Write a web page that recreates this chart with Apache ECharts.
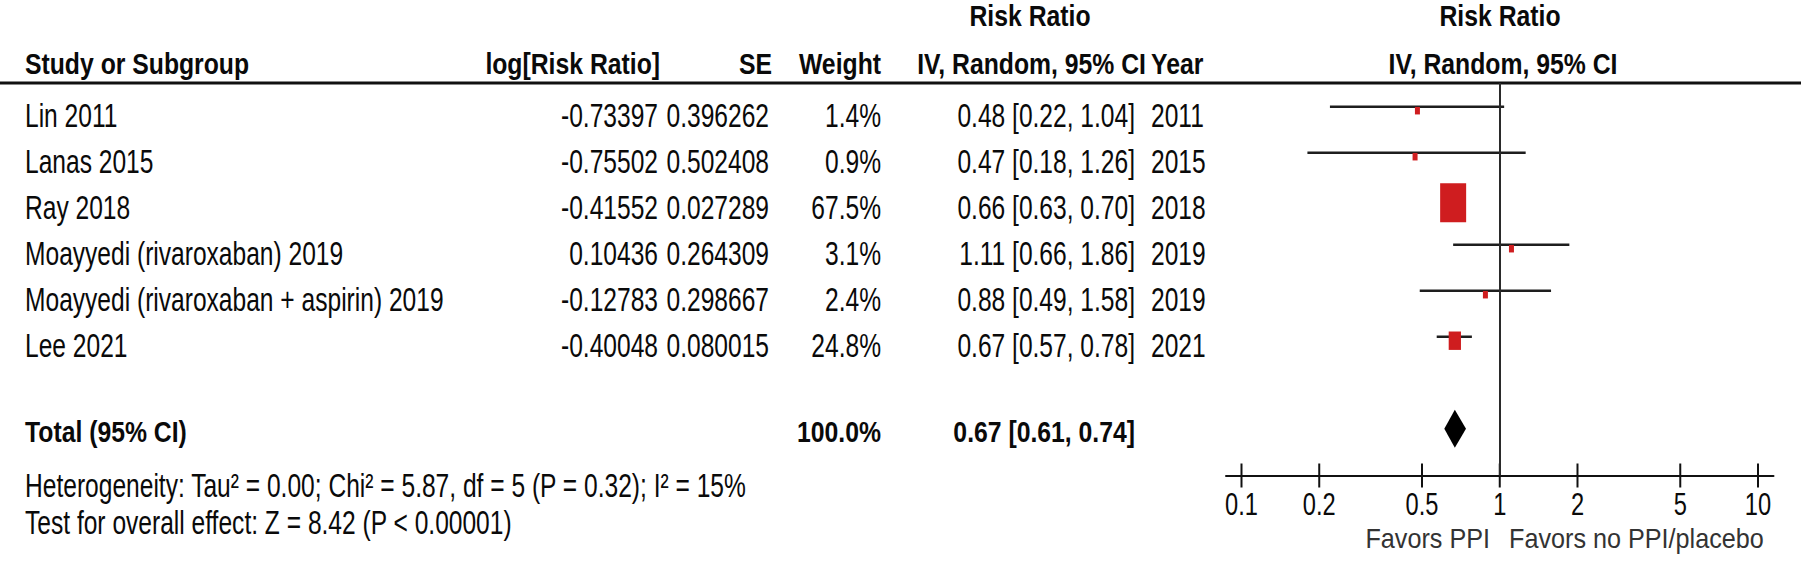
<!DOCTYPE html>
<html>
<head>
<meta charset="utf-8">
<script src="https://cdn.jsdelivr.net/npm/echarts@6/dist/echarts.min.js"></script>
<style>
html,body{margin:0;padding:0;background:#fff;}
#chart{width:1801px;height:567px;}
</style>
</head>
<body>
<div id="chart"></div>
<script>
// ---------- data ----------
const studies = ['Lin 2011', 'Lanas 2015', 'Ray 2018', 'Moayyedi (rivaroxaban) 2019', 'Moayyedi (rivaroxaban + aspirin) 2019', 'Lee 2021'];
const logRR = [-0.73397, -0.75502, -0.41552, 0.10436, -0.12783, -0.40048];
const seVals = [0.396262, 0.502408, 0.027289, 0.264309, 0.298667, 0.080015];
const weights = [1.4, 0.9, 67.5, 3.1, 2.4, 24.8];
const rr = [0.48, 0.47, 0.66, 1.11, 0.88, 0.67];
const ciLow = [0.22, 0.18, 0.63, 0.66, 0.49, 0.57];
const ciHigh = [1.04, 1.26, 0.70, 1.86, 1.58, 0.78];
const years = [2011, 2015, 2018, 2019, 2019, 2021];
const totalRR = 0.67, totalLow = 0.61, totalHigh = 0.74, totalWeight = 100.0;
const tickValues = [0.1, 0.2, 0.5, 1, 2, 5, 10];
const tickLabels = ['0.1', '0.2', '0.5', '1', '2', '5', '10'];
const heterogeneityText = 'Heterogeneity: Tau\u00b2 = 0.00; Chi\u00b2 = 5.87, df = 5 (P = 0.32); I\u00b2 = 15%';
const overallText = 'Test for overall effect: Z = 8.42 (P < 0.00001)';
const leftLabel = 'Favors PPI';
const rightLabel = 'Favors no PPI/placebo';

// ---------- layout / style ----------
const FONT = "'Liberation Sans', Arial, Helvetica, sans-serif";
const REG = {size: 33, sx: 0.745};
const BOLD = {size: 30, sx: 0.825};
const Y_MIN = -0.515, Y_MAX = 8.017;
const TOTAL_ROW = 7;
const COL = {name: 25, logrr: 658, se: 769, weight: 881, ci: 1135, year: 1151};

function txt(text, x, y, align, opt) {
  opt = opt || {};
  const f = opt.bold ? BOLD : REG;
  return {
    type: 'text', x: x, y: y, scaleX: opt.sx || f.sx, silent: true,
    style: {
      text: text, fontFamily: FONT, fontSize: opt.size || f.size,
      fontWeight: opt.bold ? 'bold' : 'normal', fill: opt.fill || '#0a0a0a',
      align: align, verticalAlign: 'middle'
    }
  };
}
function ciText(a, b, c) { return a.toFixed(2) + ' [' + b.toFixed(2) + ', ' + c.toFixed(2) + ']'; }
function boxW(w) { return Math.max(5, 26 * Math.pow(w / 67.5, 0.75)); }

const chart = echarts.init(document.getElementById('chart'), null, {renderer: 'svg'});

const option = {
  animation: false,
  backgroundColor: '#fff',
  grid: {left: 1226, right: 27.5, top: 83, bottom: 91.5},
  xAxis: {
    type: 'value', min: -1.06, max: 1.06,
    axisLine: {show: true, onZero: false, lineStyle: {color: '#111', width: 2}},
    axisTick: {show: false}, axisLabel: {show: false}, splitLine: {show: false}
  },
  yAxis: {type: 'value', min: Y_MIN, max: Y_MAX, inverse: true, show: false},
  graphic: [
    {type: 'line', silent: true, shape: {x1: 0, y1: 83, x2: 1801, y2: 83}, style: {stroke: '#111', lineWidth: 3}},
    txt('Risk Ratio', 1030, 16, 'center', {bold: true}),
    txt('Risk Ratio', 1500, 16, 'center', {bold: true}),
    txt('Study or Subgroup', COL.name, 64, 'left', {bold: true}),
    txt('log[Risk Ratio]', 660, 64, 'right', {bold: true}),
    txt('SE', 772, 64, 'right', {bold: true}),
    txt('Weight', 881, 64, 'right', {bold: true}),
    txt('IV, Random, 95% CI', 1146, 64, 'right', {bold: true}),
    txt('Year', 1151, 64, 'left', {bold: true}),
    txt('IV, Random, 95% CI', 1503, 64, 'center', {bold: true}),
    txt(heterogeneityText, COL.name, 486, 'left'),
    txt(overallText, COL.name, 523, 'left'),
    txt(leftLabel, 1490, 539, 'right', {size: 28, sx: 0.9, fill: '#333'}),
    txt(rightLabel, 1509, 539, 'left', {size: 28, sx: 0.9, fill: '#333'})
  ],
  series: [
    // table rows
    {
      type: 'custom', silent: true, clip: false,
      data: studies.map((s, i) => [0, i]),
      renderItem: function (params, api) {
        const i = params.dataIndex;
        const y = api.coord([0, i])[1] + 9;
        return {type: 'group', children: [
          txt(studies[i], COL.name, y, 'left'),
          txt(logRR[i].toFixed(5), COL.logrr, y, 'right'),
          txt(seVals[i].toFixed(6), COL.se, y, 'right'),
          txt(weights[i].toFixed(1) + '%', COL.weight, y, 'right'),
          txt(ciText(rr[i], ciLow[i], ciHigh[i]), COL.ci, y, 'right'),
          txt(String(years[i]), COL.year, y, 'left')
        ]};
      }
    },
    // total row text
    {
      type: 'custom', silent: true, clip: false,
      data: [[0, TOTAL_ROW]],
      renderItem: function (params, api) {
        const y = api.coord([0, TOTAL_ROW])[1] + 3;
        return {type: 'group', children: [
          txt('Total (95% CI)', COL.name, y, 'left', {bold: true}),
          txt(totalWeight.toFixed(1) + '%', COL.weight, y, 'right', {bold: true}),
          txt(ciText(totalRR, totalLow, totalHigh), COL.ci, y, 'right', {bold: true})
        ]};
      }
    },
    // CI whiskers
    {
      type: 'custom', silent: true, clip: false,
      data: studies.map((s, i) => [Math.log10(ciLow[i]), Math.log10(ciHigh[i]), i]),
      encode: {x: [0, 1], y: 2},
      renderItem: function (params, api) {
        const a = api.coord([api.value(0), api.value(2)]);
        const b = api.coord([api.value(1), api.value(2)]);
        return {type: 'line', shape: {x1: a[0], y1: a[1], x2: b[0], y2: b[1]},
          style: {stroke: '#1e1e1e', lineWidth: 2.5}};
      }
    },
    // boxes
    {
      type: 'scatter', silent: true, symbol: 'rect', symbolOffset: [0, 4],
      itemStyle: {color: '#cf1d1f', opacity: 1},
      data: studies.map((s, i) => ({
        value: [Math.log10(rr[i]), i],
        symbolSize: [boxW(weights[i]), boxW(weights[i]) * 1.5]
      })),
      markLine: {
        silent: true, symbol: 'none', label: {show: false},
        lineStyle: {color: '#2a2a2a', width: 2, type: 'solid'},
        data: [{xAxis: 0}]
      },
      z: 3
    },
    // pooled diamond
    {
      type: 'custom', silent: true, clip: false,
      data: [[Math.log10(totalLow), Math.log10(totalRR), Math.log10(totalHigh), TOTAL_ROW]],
      encode: {x: [0, 1, 2], y: 3},
      renderItem: function (params, api) {
        const l = api.coord([api.value(0), api.value(3)]);
        const m = api.coord([api.value(1), api.value(3)]);
        const h = api.coord([api.value(2), api.value(3)]);
        return {type: 'polygon', shape: {points: [[l[0], l[1]], [m[0], m[1] - 19], [h[0], h[1]], [m[0], m[1] + 19]]},
          style: {fill: '#000'}};
      },
      z: 4
    },
    // axis ticks (both sides) and tick labels
    {
      type: 'custom', silent: true, clip: false,
      data: tickValues.map(v => [Math.log10(v), Y_MAX]),
      renderItem: function (params, api) {
        const p = api.coord([api.value(0), Y_MAX]);
        return {type: 'group', children: [
          {type: 'line', shape: {x1: p[0], y1: p[1] - 12, x2: p[0], y2: p[1] + 12}, style: {stroke: '#111', lineWidth: 2}},
          txt(tickLabels[params.dataIndex], p[0], p[1] + 29, 'center', {size: 32, sx: 0.74})
        ]};
      }
    }
  ]
};
chart.setOption(option);
</script>
</body>
</html>
